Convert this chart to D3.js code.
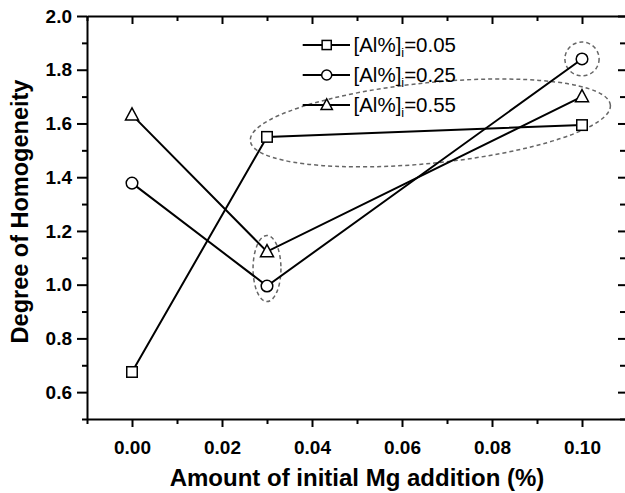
<!DOCTYPE html>
<html>
<head>
<meta charset="utf-8">
<script src="https://cdn.jsdelivr.net/npm/d3@7"></script>
<style>
html,body{margin:0;padding:0;background:#fff;}
svg{display:block;}
text{font-family:"Liberation Sans",Arial,Helvetica,sans-serif;}
</style>
</head>
<body>
<svg id="chart" width="625" height="493"></svg>
<script>
// ---- data ----
const mgAddition = [0.00, 0.03, 0.10];
const seriesNames = ["0.05", "0.25", "0.55"];
const seriesSymbols = ["square", "circle", "triangle"];
const al005 = [0.675, 1.55, 1.594];
const al025 = [1.378, 0.995, 1.84];
const al055 = [1.632, 1.123, 1.70];
const xTicks = [0.00, 0.02, 0.04, 0.06, 0.08, 0.10];
const yTicks = [0.6, 0.8, 1.0, 1.2, 1.4, 1.6, 1.8, 2.0];
// annotation ellipses in data units: [cx, cy, rxData, ryData, rotationDeg]
const highlightEllipses = [
  [0.10, 1.84, 0.0038, 0.063, 0],
  [0.03, 1.06, 0.0031, 0.123, 0],
  [0.0663, 1.602, 0.0402, 0.150, -5.7]
];

const series = [al005, al025, al055];

const svg = d3.select("#chart");
const x = d3.scaleLinear().domain([-0.01, 0.11]).range([87, 627]);
const y = d3.scaleLinear().domain([0.5, 2.0]).range([419, 16]);

const xMinor = d3.range(-0.01, 0.1101, 0.01).map(v => +v.toFixed(2)).filter(v => !xTicks.some(t => Math.abs(t - v) < 1e-9));
const yMinor = d3.range(0.5, 2.001, 0.1).map(v => +v.toFixed(1)).filter(v => !yTicks.some(t => Math.abs(t - v) < 1e-9));

const axisW = 2;
function styleAxis(g) {
  g.selectAll("path").attr("stroke", "#000").attr("stroke-width", axisW);
  g.selectAll("line").attr("stroke", "#000").attr("stroke-width", axisW);
  g.selectAll("text").attr("fill", "#000");
}

// bottom axis
const gB = svg.append("g").attr("transform", `translate(0,${y(0.5)})`)
  .call(d3.axisBottom(x).tickValues(xTicks).tickFormat(d3.format(".2f")).tickSizeInner(8).tickSizeOuter(0).tickPadding(14));
gB.selectAll("text").attr("font-size", 19).attr("font-weight", "bold");
styleAxis(gB);
svg.append("g").attr("transform", `translate(0,${y(0.5)})`)
  .call(d3.axisBottom(x).tickValues(xMinor).tickFormat("").tickSizeInner(5).tickSizeOuter(0))
  .call(g => g.select("path").remove()).call(styleAxis);

// top axis (inward)
const gT = svg.append("g").attr("transform", `translate(0,${y(2.0)})`)
  .call(d3.axisTop(x).tickValues(xTicks).tickFormat("").tickSizeInner(-8).tickSizeOuter(0));
styleAxis(gT);
svg.append("g").attr("transform", `translate(0,${y(2.0)})`)
  .call(d3.axisTop(x).tickValues(xMinor).tickFormat("").tickSizeInner(-5).tickSizeOuter(0))
  .call(g => g.select("path").remove()).call(styleAxis);

// left axis
const gL = svg.append("g").attr("transform", `translate(${x(-0.01)},0)`)
  .call(d3.axisLeft(y).tickValues(yTicks).tickFormat(d3.format(".1f")).tickSizeInner(10).tickSizeOuter(0).tickPadding(5));
gL.selectAll("text").attr("font-size", 19).attr("font-weight", "bold");
styleAxis(gL);
svg.append("g").attr("transform", `translate(${x(-0.01)},0)`)
  .call(d3.axisLeft(y).tickValues(yMinor).tickFormat("").tickSizeInner(5).tickSizeOuter(0))
  .call(g => g.select("path").remove()).call(styleAxis);

// right axis (inward)
const gR = svg.append("g").attr("transform", `translate(${x(0.11)},0)`)
  .call(d3.axisRight(y).tickValues(yTicks).tickFormat("").tickSizeInner(-9).tickSizeOuter(0));
styleAxis(gR);
svg.append("g").attr("transform", `translate(${x(0.11)},0)`)
  .call(d3.axisRight(y).tickValues(yMinor).tickFormat("").tickSizeInner(-7).tickSizeOuter(0))
  .call(g => g.select("path").remove()).call(styleAxis);

// axis titles
svg.append("text").attr("x", (x(-0.01) + x(0.11)) / 2).attr("y", 486)
  .attr("text-anchor", "middle").attr("font-size", 24).attr("font-weight", "bold")
  .text("Amount of initial Mg addition (%)");
svg.append("text").attr("transform", `translate(28,${211.5}) rotate(-90)`)
  .attr("text-anchor", "middle").attr("font-size", 23.5).attr("font-weight", "bold")
  .text("Degree of Homogeneity");

// highlight ellipses
const kx = x(1) - x(0), ky = y(0) - y(1);
svg.append("g").selectAll("ellipse").data(highlightEllipses).join("ellipse")
  .attr("cx", d => x(d[0])).attr("cy", d => y(d[1]))
  .attr("rx", d => d[2] * kx).attr("ry", d => d[3] * ky)
  .attr("transform", d => `rotate(${d[4]},${x(d[0])},${y(d[1])})`)
  .attr("fill", "none").attr("stroke", "#666").attr("stroke-width", 1.5)
  .attr("stroke-dasharray", "4,3");

// symbols
function drawSymbol(g, type, cx, cy, scale) {
  const s = scale || 1;
  if (type === "square") {
    const a = 10.5 * s;
    g.append("rect").attr("x", cx - a / 2).attr("y", cy - a / 2).attr("width", a).attr("height", a)
      .attr("fill", "#fff").attr("stroke", "#000").attr("stroke-width", 1.5);
  } else if (type === "circle") {
    g.append("circle").attr("cx", cx).attr("cy", cy).attr("r", 5.8 * s)
      .attr("fill", "#fff").attr("stroke", "#000").attr("stroke-width", 1.5);
  } else {
    const w = 13 * s, h = 12 * s;
    g.append("path").attr("d", `M${cx},${cy - h * 0.58}L${cx + w / 2},${cy + h * 0.42}L${cx - w / 2},${cy + h * 0.42}Z`)
      .attr("fill", "#fff").attr("stroke", "#000").attr("stroke-width", 1.5);
  }
}

const line = d3.line().x((d, i) => x(mgAddition[i])).y(d => y(d));
const gLines = svg.append("g");
series.forEach(s => {
  gLines.append("path").attr("d", line(s)).attr("fill", "none").attr("stroke", "#000").attr("stroke-width", 2);
});
const gMarks = svg.append("g");
series.forEach((s, k) => {
  s.forEach((v, i) => drawSymbol(gMarks, seriesSymbols[k], x(mgAddition[i]), y(v), 1));
});

// legend
const legY = [45, 75, 105];
const gLeg = svg.append("g");
seriesNames.forEach((name, k) => {
  const cy = legY[k];
  gLeg.append("line").attr("x1", 302.7).attr("x2", 350).attr("y1", cy).attr("y2", cy)
    .attr("stroke", "#000").attr("stroke-width", 2);
  drawSymbol(gLeg, seriesSymbols[k], 326.7, cy, 0.87);
  const t = gLeg.append("text").attr("x", 353.5).attr("y", cy + 7).attr("font-size", 20.5);
  t.append("tspan").text("[Al%]");
  t.append("tspan").attr("font-size", 12.5).attr("dy", 5).text("i");
  t.append("tspan").attr("dy", -5).text("=" + name);
});
</script>
</body>
</html>
